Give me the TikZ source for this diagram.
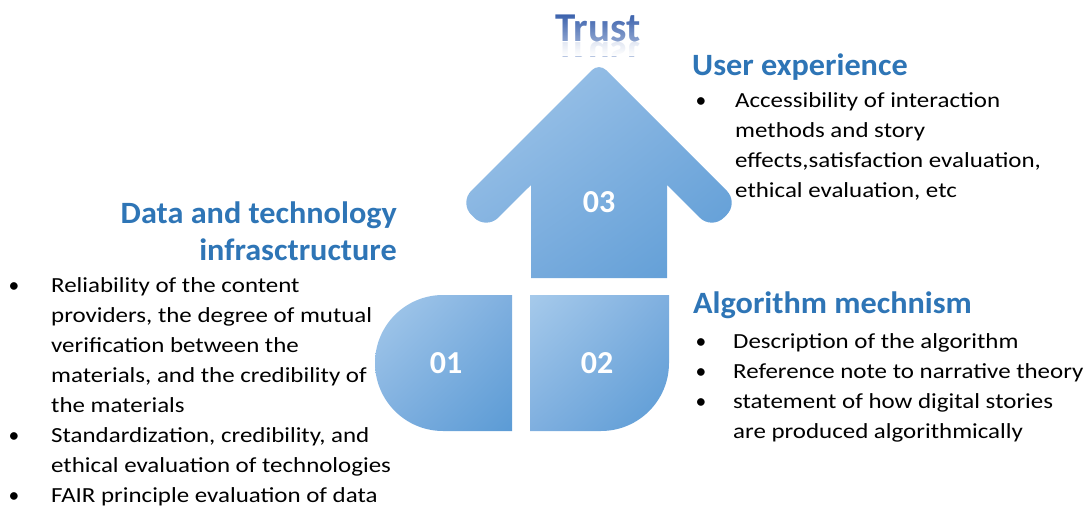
\documentclass[tikz,border=0pt]{standalone}
\usepackage{fontspec}
\setmainfont{Carlito}
\newfontfamily\bodyfont{Carlito}[FakeStretch=1.16]
\newfontfamily\headfont{Carlito}[FakeStretch=1.04]
\usepackage{graphicx}
\usetikzlibrary{shadings,fadings}
\definecolor{headblue}{HTML}{2E75B6}
\definecolor{trustblue}{HTML}{2F58A8}
\definecolor{shA}{HTML}{A6CAEB}
\definecolor{shB}{HTML}{7FAFDF}
\definecolor{shC}{HTML}{5B9BD5}
\tikzfading[name=trustfade, top color=transparent!100, bottom color=transparent!55]
\tikzfading[name=reflfade, top color=transparent!40, bottom color=transparent!0]
\tikzset{
  body/.style={anchor=base west,inner sep=0pt,font=\bodyfont\fontsize{21.5}{26}\selectfont,text=black},
  bul/.style={anchor=base,inner sep=0pt,font=\fontsize{21.5}{26}\selectfont,text=black},
  head/.style={inner sep=0pt,font=\headfont\fontsize{31}{34}\selectfont\bfseries,text=headblue},
  num/.style={inner sep=0pt,font=\fontsize{32}{34}\selectfont\bfseries,text=white},
  trustfont/.style={inner sep=0pt,anchor=base,font=\fontsize{41}{44}\selectfont\bfseries,text=trustblue},
  blueshade/.style={upper left=shA,upper right=shB,lower left=shB,lower right=shC}
}
\begin{document}
\begin{tikzpicture}[x=1pt,y=1pt]
\useasboundingbox (0,0) rectangle (1090,-506);
% arrow 03
\shade[blueshade] (531,-278) -- (531,-185) [rounded corners=17pt] -- (486.2,-229.7) -- (459.25,-202.75) [rounded corners=10pt] -- (599,-63) [rounded corners=17pt] -- (738.75,-202.75) -- (711.8,-229.7) [sharp corners] -- (667,-185) -- (667,-278) -- cycle;
% shape 01
\shade[blueshade] (512,-295) -- (512,-431) -- (443,-431) arc[start angle=270,end angle=90,radius=68pt] -- cycle;
% shape 02
\shade[blueshade] (530,-295) -- (669,-295) -- (669,-363) arc[start angle=0,end angle=-90,radius=68pt] -- (530,-431) -- cycle;
\node[num] (n03) at (599,-202) {03};
\node[num] (n01) at (446,-363) {01};
\node[num] (n02) at (597,-363) {02};
% Trust
\node[trustfont] (trust) at (598,-41) {Trust};
\fill[white, path fading=trustfade] (545,-10) rectangle (655,-41.5);
\begin{scope}
\clip (540,-41.5) rectangle (660,-56);
\node[trustfont,opacity=0.35] (trustrefl) at (598,-42) {\scalebox{1}[-1]{Trust}};
\fill[white, path fading=reflfade] (540,-41.5) rectangle (660,-56);
\end{scope}
% User experience
\node[head,anchor=base west] (ueh) at (692,-75) {User experience};
\node[bul] (ueb1) at (701,-107) {•};
\node[body] (ue1) at (735,-107) {Accessibility of interaction};
\node[body] (ue2) at (735,-137) {methods and story};
\node[body] (ue3) at (735,-167) {effects,satisfaction evaluation,};
\node[body] (ue4) at (735,-197) {ethical evaluation, etc};
% Data and technology
\node[head,anchor=base east] (dth1) at (397,-223) {Data and technology};
\node[head,anchor=base east] (dth2) at (397,-260) {infrasctructure};
\node[bul] (dtb1) at (14,-292) {•};
\node[body] (dt1) at (51,-292) {Reliability of the content};
\node[body] (dt2) at (51,-322) {providers, the degree of mutual};
\node[body] (dt3) at (51,-352) {verification between the};
\node[body] (dt4) at (51,-382) {materials, and the credibility of};
\node[body] (dt5) at (51,-412) {the materials};
\node[bul] (dtb2) at (14,-442) {•};
\node[body] (dt6) at (51,-442) {Standardization, credibility, and};
\node[body] (dt7) at (51,-472) {ethical evaluation of technologies};
\node[bul] (dtb3) at (14,-502) {•};
\node[body] (dt8) at (51,-502) {FAIR principle evaluation of data};
% Algorithm mechnism
\node[head,anchor=base west] (amh) at (693,-313) {Algorithm mechnism};
\node[bul] (amb1) at (701,-348) {•};
\node[body] (am1) at (733,-348) {Description of the algorithm};
\node[bul] (amb2) at (701,-378) {•};
\node[body] (am2) at (733,-378) {Reference note to narrative theory};
\node[bul] (amb3) at (701,-408) {•};
\node[body] (am3) at (733,-408) {statement of how digital stories};
\node[body] (am4) at (733,-438) {are produced algorithmically};
\end{tikzpicture}
\end{document}
